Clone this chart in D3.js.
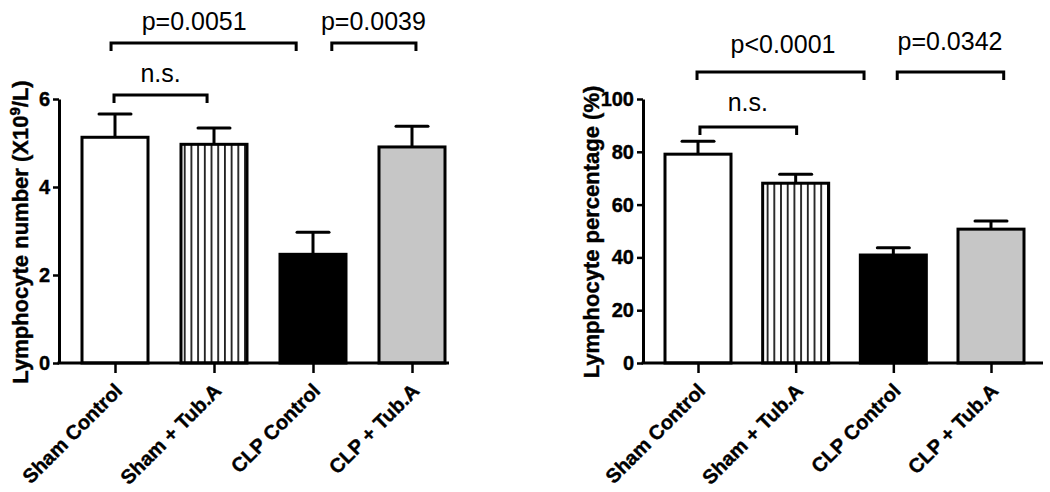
<!DOCTYPE html>
<html><head><meta charset="utf-8">
<script src="https://cdn.jsdelivr.net/npm/d3@7"></script>
<style>
body{margin:0;background:#fff}
text{font-family:"Liberation Sans",Arial,Helvetica,sans-serif;fill:#000}
</style>
</head><body>
<svg id="chart" width="1050" height="492"></svg>
<script>
// ---------- data ----------
const categories = ["Sham Control", "Sham + Tub.A", "CLP Control", "CLP + Tub.A"];
const countMeans = [5.13, 4.97, 2.47, 4.91];
const countErrors = [0.53, 0.37, 0.50, 0.47];
const pctMeans = [79.1, 68.1, 40.9, 50.7];
const pctErrors = [4.9, 3.4, 2.8, 3.1];
const countTicks = [0, 2, 4, 6];
const pctTicks = [0, 20, 40, 60, 80, 100];
const fills = ["white", "hatch", "black", "#c6c6c6"];
// brackets: category-index ends, level (data units), label, label position (index), label level
const countBrackets = [
  {from: -0.04, to: 1.83, level: 7.27, label: "p=0.0051", at: 0.80, labelLevel: 7.57},
  {from: 2.19, to: 3.04, level: 7.27, label: "p=0.0039", at: 2.61, labelLevel: 7.57},
  {from: -0.01, to: 0.93, level: 6.09, label: "n.s.", at: 0.46, labelLevel: 6.39}
];
const pctBrackets = [
  {from: -0.01, to: 1.70, level: 110.2, label: "p<0.0001", at: 0.87, labelLevel: 117.4},
  {from: 2.04, to: 3.13, level: 110.2, label: "p=0.0342", at: 2.58, labelLevel: 118.6},
  {from: 0.02, to: 1.01, level: 89.4, label: "n.s.", at: 0.51, labelLevel: 95.5}
];

const svg = d3.select("#chart");
const defs = svg.append("defs");
const pat = defs.append("pattern").attr("id", "hatch")
  .attr("patternUnits", "userSpaceOnUse").attr("width", 6.7).attr("height", 10);
pat.append("rect").attr("width", 6.7).attr("height", 10).attr("fill", "white");
pat.append("rect").attr("x", 3).attr("width", 1.6).attr("height", 10).attr("fill", "black");

const boldFont = '"Liberation Sans",Arial,sans-serif';

function panel(cfg) {
  const g = svg.append("g");
  const x = d3.scalePoint().domain(categories).range(cfg.xRange);
  const xi = d3.scaleLinear().domain([0, categories.length - 1]).range(cfg.xRange);
  const y = d3.scaleLinear().domain(cfg.yDomain).range([363, 99]);
  const bw = 66, cap = 32;

  // bars
  g.selectAll("rect.bar").data(cfg.means).join("rect").attr("class", "bar")
    .attr("x", (d, i) => x(categories[i]) - bw / 2)
    .attr("y", d => y(d))
    .attr("width", bw)
    .attr("height", d => y(0) - y(d))
    .attr("fill", (d, i) => fills[i] === "hatch" ? "url(#hatch)" : fills[i])
    .attr("stroke", "black").attr("stroke-width", 3);

  // error bars (upper only)
  const eb = g.selectAll("g.err").data(cfg.means).join("g").attr("class", "err");
  eb.append("line")
    .attr("x1", (d, i) => x(categories[i])).attr("x2", (d, i) => x(categories[i]))
    .attr("y1", d => y(d)).attr("y2", (d, i) => y(d + cfg.errors[i]))
    .attr("stroke", "black").attr("stroke-width", 3);
  eb.append("line")
    .attr("x1", (d, i) => x(categories[i]) - cap / 2).attr("x2", (d, i) => x(categories[i]) + cap / 2)
    .attr("y1", (d, i) => y(d + cfg.errors[i])).attr("y2", (d, i) => y(d + cfg.errors[i]))
    .attr("stroke", "black").attr("stroke-width", 3).attr("stroke-linecap", "round");

  // y axis
  const ya = g.append("g").attr("transform", `translate(${cfg.axisX},0)`)
    .call(d3.axisLeft(y).tickValues(cfg.ticks).tickFormat(d3.format("d"))
      .tickSize(6).tickSizeOuter(0).tickPadding(3));
  ya.select(".domain").attr("stroke-width", 3);
  ya.selectAll(".tick line").attr("stroke-width", 2.5);
  ya.selectAll(".tick text").style("font-size", "20px").style("font-weight", "bold")
    .style("font-family", boldFont)
    .attr("stroke", "black").attr("stroke-width", 0.4);

  // x axis
  g.append("line").attr("x1", cfg.axisX - 1.5).attr("x2", cfg.axisEnd)
    .attr("y1", y(0)).attr("y2", y(0)).attr("stroke", "black").attr("stroke-width", 3);
  const xa = g.append("g").attr("transform", `translate(0,${y(0)})`)
    .call(d3.axisBottom(x).tickSize(10).tickSizeOuter(0));
  xa.select(".domain").remove();
  xa.selectAll(".tick line").attr("stroke-width", 2.5);
  xa.selectAll(".tick text")
    .attr("x", 0).attr("y", 0).attr("dy", 0)
    .attr("text-anchor", "end")
    .attr("transform", "translate(8,29) rotate(-45)")
    .style("font-size", "20px").style("font-weight", "bold")
    .style("font-family", boldFont)
    .attr("stroke", "black").attr("stroke-width", 0.4);

  // y label
  const yl = g.append("text")
    .attr("transform", `translate(${cfg.labelX},232) rotate(-90)`)
    .attr("text-anchor", "middle")
    .attr("stroke", "black").attr("stroke-width", 0.4)
    .style("font-size", "22px").style("font-weight", "bold");
  cfg.yLabel.forEach(part => {
    const t = yl.append("tspan").text(part.t);
    if (part.sup) t.attr("baseline-shift", "super").style("font-size", "15px");
  });

  // brackets
  const br = g.selectAll("g.br").data(cfg.brackets).join("g").attr("class", "br");
  br.append("path")
    .attr("d", d => `M${xi(d.from)},${y(d.level) + 8}V${y(d.level)}H${xi(d.to)}V${y(d.level) + 8}`)
    .attr("fill", "none").attr("stroke", "black").attr("stroke-width", 3);
  br.append("text")
    .attr("x", d => xi(d.at)).attr("y", d => y(d.labelLevel))
    .attr("text-anchor", "middle")
    .style("font-size", "25px")
    .text(d => d.label);
}

panel({
  xRange: [115, 412], yDomain: [0, 6], axisX: 59, axisEnd: 449,
  means: countMeans, errors: countErrors, ticks: countTicks, brackets: countBrackets,
  labelX: 28,
  yLabel: [{t: "Lymphocyte number (X10"}, {t: "9", sup: true}, {t: "/L)"}]
});
panel({
  xRange: [698, 991], yDomain: [0, 100], axisX: 643, axisEnd: 1043,
  means: pctMeans, errors: pctErrors, ticks: pctTicks, brackets: pctBrackets,
  labelX: 599,
  yLabel: [{t: "Lymphocyte percentage (%)"}]
});
</script>
</body></html>
